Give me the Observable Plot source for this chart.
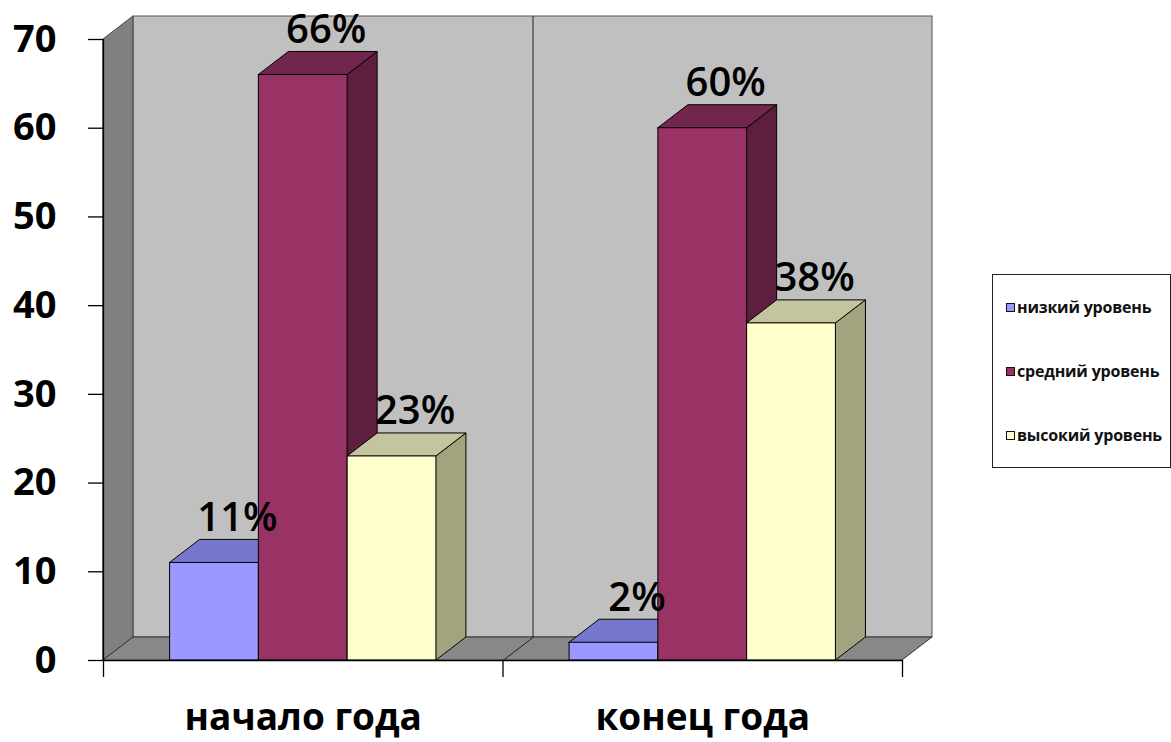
<!DOCTYPE html>
<html>
<head>
<meta charset="utf-8">
<script src="https://cdn.jsdelivr.net/npm/d3@7"></script>
<script src="https://cdn.jsdelivr.net/npm/@observablehq/plot@0.6"></script>
<style>
  body { margin: 0; background: #fff; }
  #wrap { position: relative; width: 1171px; height: 742px; overflow: hidden; }
  #legend {
    position: absolute; left: 992px; top: 274px; width: 177px; height: 192px;
    border: 1.5px solid #222; background: #fff;
    font-family: "Open Sans", sans-serif; font-weight: 700; font-size: 16px; color: #111;
  }
  #legend .item { height: 64px; display: flex; align-items: center; padding-left: 13px; white-space: nowrap; letter-spacing: -0.2px; }
  #legend .sw { width: 7px; height: 7px; border: 1px solid #111; margin-right: 2px; flex: none; }
</style>
</head>
<body>
<div id="wrap"><div id="chart"></div><div id="legend"></div></div>
<script>
// ---- data ----
const categories = ["начало года", "конец года"];
const seriesNames = ["низкий уровень", "средний уровень", "высокий уровень"];
const lowLevel = [11, 2];
const midLevel = [66, 60];
const highLevel = [23, 38];
const yTicks = [0, 10, 20, 30, 40, 50, 60, 70];

// ---- styles ----
const frontColors = ["#9999ff", "#993366", "#ffffcc"];
const topColors = ["#7777cc", "#73264d", "#c4c49e"];
const sideColors = ["#5c5c99", "#5e1f3f", "#a3a380"];

// ---- layout ----
const W = 1171, H = 742, ML = 103, MR = 269, MT = 39, MB = 82;
const yMax = 70, xMax = categories.length;
const depthPx = [30, 23];
const DX = depthPx[0] / ((W - ML - MR) / xMax);
const DY = depthPx[1] / ((H - MT - MB) / yMax);
const BW = 1 / (seriesNames.length + 1.5); // gap width 150%

const values = [lowLevel, midLevel, highLevel];
const bars = [];
categories.forEach((c, g) => {
  seriesNames.forEach((s, i) => {
    const x1 = g + (0.75 + i) * BW;
    bars.push({g, i, key: g + "-" + i, x1, x2: x1 + BW, v: values[i][g]});
  });
});

const sides = bars.flatMap(b => [
  {key: b.key, x: b.x2, y1: 0, y2: b.v, fill: sideColors[b.i]},
  {key: b.key, x: b.x2 + DX, y1: DY, y2: b.v + DY, fill: sideColors[b.i]}
]);
const tops = bars.flatMap(b => [
  {key: b.key, y: b.v, x1: b.x1, x2: b.x2, fill: topColors[b.i]},
  {key: b.key, y: b.v + DY, x1: b.x1 + DX, x2: b.x2 + DX, fill: topColors[b.i]}
]);

const backWall = [{x1: DX, x2: xMax + DX, y1: DY, y2: yMax + DY}];
const leftWall = [{x: 0, y1: 0, y2: yMax}, {x: DX, y1: DY, y2: yMax + DY}];
const floor = [{y: 0, x1: 0, x2: xMax}, {y: DY, x1: DX, x2: xMax + DX}];
const dividers = d3.range(1, xMax).flatMap((k, z) => [
  {x: k, y: 0, z}, {x: k + DX, y: DY, z}, {x: k + DX, y: yMax + DY, z}
]);

const chart = Plot.plot({
  width: W, height: H,
  marginLeft: ML, marginRight: MR, marginTop: MT, marginBottom: MB,
  style: {fontFamily: "Open Sans, sans-serif", background: "white", color: "black"},
  x: {domain: [0, xMax], axis: null},
  y: {domain: [0, yMax], axis: null},
  color: {type: "identity"},
  marks: [
    Plot.rect(backWall, {x1: "x1", x2: "x2", y1: "y1", y2: "y2", fill: "#c0c0c0", stroke: "#555", strokeWidth: 1}),
    Plot.areaY(leftWall, {x: "x", y1: "y1", y2: "y2", fill: "#808080", stroke: "#444", strokeWidth: 1}),
    Plot.areaX(floor, {y: "y", x1: "x1", x2: "x2", fill: "#888888", stroke: "#333", strokeWidth: 1}),
    Plot.line(dividers, {x: "x", y: "y", z: "z", stroke: "#222", strokeWidth: 1}),
    Plot.areaY(sides, {x: "x", y1: "y1", y2: "y2", z: "key", fill: "fill", stroke: "#000", strokeWidth: 1}),
    Plot.areaX(tops, {y: "y", x1: "x1", x2: "x2", z: "key", fill: "fill", stroke: "#000", strokeWidth: 1}),
    Plot.rect(bars, {x1: "x1", x2: "x2", y1: 0, y2: "v", fill: d => frontColors[d.i], stroke: "#000", strokeWidth: 1}),
    Plot.text(bars, {
      x: d => (d.x1 + d.x2) / 2 + DX / 2, y: d => d.v + DY, text: d => d.v + "%",
      dx: 8, dy: -22, fontSize: 40, fontWeight: 600, fill: "black"
    }),
    Plot.ruleX([0], {y1: 0, y2: yMax, stroke: "black", strokeWidth: 1.3}),
    Plot.ruleY([0], {x1: 0, x2: xMax, stroke: "black", strokeWidth: 1.3}),
    Plot.axisY({ticks: yTicks, tickSize: 15, tickPadding: 32, fontSize: 38, fontWeight: "bold", label: null, strokeWidth: 1.3}),
    Plot.axisX({ticks: d3.range(0, xMax + 1), tickSize: 17, tickFormat: () => "", label: null, strokeWidth: 1.3}),
    Plot.text(categories, {x: (d, i) => i + 0.5, y: 0, text: d => d, dy: 58, fontSize: 37, fontWeight: "bold", fill: "black"})
  ]
});
document.getElementById("chart").appendChild(chart);

const legend = document.getElementById("legend");
seriesNames.forEach((s, i) => {
  const item = document.createElement("div");
  item.className = "item";
  const sw = document.createElement("span");
  sw.className = "sw";
  sw.style.background = frontColors[i];
  item.appendChild(sw);
  item.appendChild(document.createTextNode(s));
  legend.appendChild(item);
});
</script>
</body>
</html>
